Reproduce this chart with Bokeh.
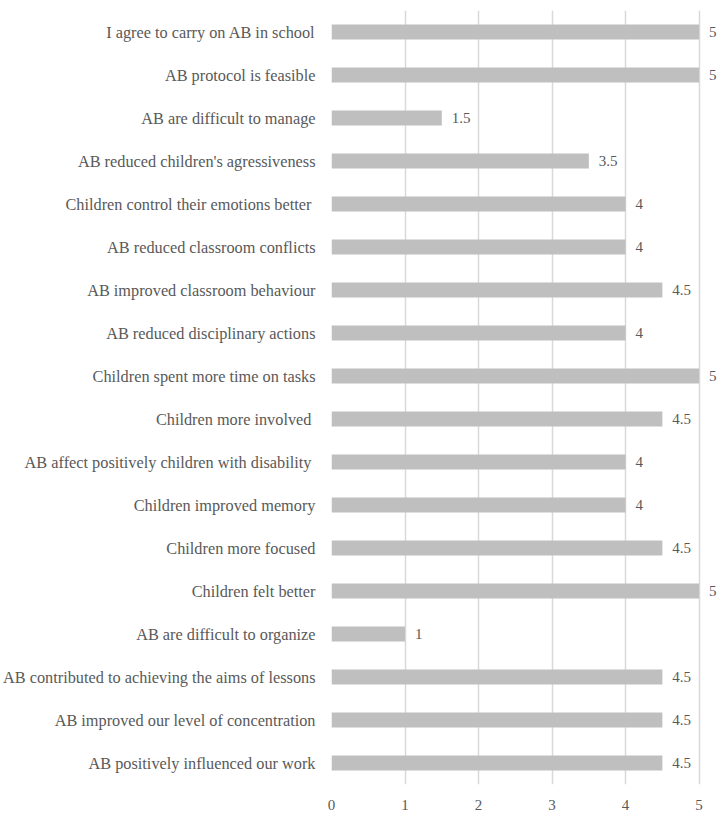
from bokeh.plotting import figure
from bokeh.models import Range1d, FactorRange, ColumnDataSource, LabelSet, FixedTicker
from bokeh.embed import file_html
from bokeh.resources import INLINE

categories = [
    "I agree to carry on AB in school",
    "AB protocol is feasible",
    "AB are difficult to manage",
    "AB reduced children's agressiveness",
    "Children control their emotions better ",
    "AB reduced classroom conflicts",
    "AB improved classroom behaviour",
    "AB reduced disciplinary actions",
    "Children spent more time on tasks",
    "Children more involved ",
    "AB affect positively children with disability ",
    "Children improved memory",
    "Children more focused",
    "Children felt better",
    "AB are difficult to organize",
    "AB contributed to achieving the aims of lessons",
    "AB improved our level of concentration",
    "AB positively influenced our work",
]
values = [5, 5, 1.5, 3.5, 4, 4, 4.5, 4, 5, 4.5, 4, 4, 4.5, 5, 1, 4.5, 4.5, 4.5]
x_ticks = [0, 1, 2, 3, 4, 5]

FONT = "Liberation Serif"
TEXT = "#595959"

src = ColumnDataSource(dict(
    cat=categories,
    val=values,
    lab=[f"{v:g}" for v in values],
))

p = figure(
    y_range=FactorRange(*reversed(categories)),
    x_range=Range1d(0, 5.25),
    frame_width=386, frame_height=774,
    min_border_left=10, min_border_top=10, min_border_right=0, min_border_bottom=0,
    output_backend="svg", toolbar_location=None,
)
p.hbar(y="cat", right="val", height=0.35, left=0, source=src,
       fill_color="#BFBFBF", line_color=None)

labels = LabelSet(x="val", y="cat", text="lab", source=src, x_offset=10,
                  text_baseline="middle", text_align="left",
                  text_font=FONT, text_font_size="15px", text_color=TEXT)
p.add_layout(labels)

p.outline_line_color = None
p.ygrid.grid_line_color = None
p.xgrid.grid_line_color = "#D9D9D9"
p.xgrid.grid_line_width = 1.5
p.xaxis.ticker = FixedTicker(ticks=x_ticks)
p.xaxis.axis_line_color = None
p.xaxis.major_tick_line_color = None
p.xaxis.minor_tick_line_color = None
p.xaxis.major_label_standoff = 9
p.xaxis.major_label_text_font = FONT
p.xaxis.major_label_text_font_size = "15px"
p.xaxis.major_label_text_color = TEXT

p.yaxis.axis_line_color = None
p.yaxis.major_tick_line_color = None
p.yaxis.minor_tick_line_color = None
p.yaxis.major_label_standoff = 10
p.yaxis.major_label_text_font = FONT
p.yaxis.major_label_text_font_size = "16.3px"
p.yaxis.major_label_text_color = TEXT

open("out.html", "w").write(file_html(p, INLINE))
